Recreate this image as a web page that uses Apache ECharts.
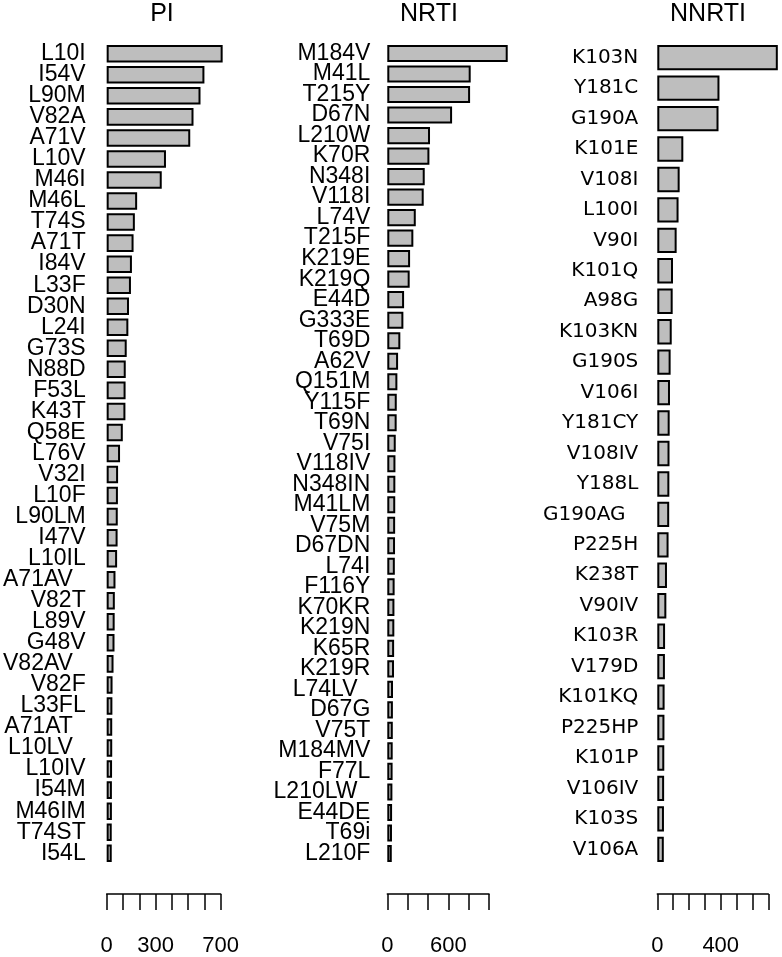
<!DOCTYPE html>
<html>
<head>
<meta charset="utf-8">
<script src="https://cdn.jsdelivr.net/npm/echarts@6/dist/echarts.min.js"></script>
<style>
  html, body { margin: 0; padding: 0; background: #fff; }
  #chart { width: 782px; height: 957px; }
</style>
</head>
<body>
<div id="chart"></div>
<script>
// mutation counts per drug class
var piLabels = ["L10I", "I54V", "L90M", "V82A", "A71V", "L10V", "M46I", "M46L", "T74S", "A71T",
  "I84V", "L33F", "D30N", "L24I", "G73S", "N88D", "F53L", "K43T", "Q58E", "L76V",
  "V32I", "L10F", "L90LM", "I47V", "L10IL", "A71AV  ", "V82T", "L89V", "G48V", "V82AV  ",
  "V82F", "L33FL", "A71AT  ", "L10LV  ", "L10IV", "I54M", "M46IM", "T74ST", "I54L"];
var piValues = [712, 600, 576, 533, 513, 364, 338, 187, 173, 165,
  155, 149, 137, 133, 123, 117, 116, 115, 99, 82,
  70, 69, 68, 67, 64, 54, 50, 49, 48, 42,
  36, 35, 34, 34, 33, 32, 32, 31, 31];

var nrtiLabels = ["M184V", "M41L", "T215Y", "D67N", "L210W", "K70R", "N348I", "V118I", "L74V", "T215F",
  "K219E", "K219Q", "E44D", "G333E", "T69D", "A62V", "Q151M", "Y115F", "T69N", "V75I",
  "V118IV", "N348IN", "M41LM", "V75M", "D67DN", "L74I", "F116Y", "K70KR", "K219N", "K65R",
  "K219R", "L74LV  ", "D67G", "V75T", "M184MV", "F77L", "L210LW  ", "E44DE", "T69i", "L210F"];
var nrtiValues = [1184, 820, 814, 637, 420, 414, 368, 358, 280, 256,
  224, 220, 165, 158, 128, 106, 99, 93, 92, 83,
  80, 79, 78, 77, 76, 74, 72, 70, 69, 67,
  66, 56, 55, 54, 53, 52, 50, 47, 46, 44];

var nnrtiLabels = ["K103N", "Y181C", "G190A", "K101E", "V108I", "L100I", "V90I", "K101Q", "A98G", "K103KN",
  "G190S", "V106I", "Y181CY", "V108IV", "Y188L", "G190AG  ", "P225H", "K238T", "V90IV", "K103R",
  "V179D", "K101KQ", "P225HP", "K101P", "V106IV", "K103S", "V106A"];
var nnrtiValues = [760, 392, 386, 164, 141, 134, 122, 99, 97, 91,
  84, 80, 78, 77, 76, 75, 71, 61, 57, 49,
  48, 46, 45, 44, 43, 42, 41];

// axis ticks and the labels that are actually printed
var piTicks = { max: 700, interval: 100, shown: [0, 300, 700] };
var nrtiTicks = { max: 1000, interval: 200, shown: [0, 600] };
var nnrtiTicks = { max: 700, interval: 100, shown: [0, 400] };

var panels = [
  { title: "PI", titleX: 162, labels: piLabels, values: piValues, ticks: piTicks,
    left: 103.3, width: 117.4, margin: 21, font: "Liberation Sans", size: 23 },
  { title: "NRTI", titleX: 429, labels: nrtiLabels, values: nrtiValues, ticks: nrtiTicks,
    left: 387.3, width: 101.7, margin: 17, font: "Liberation Sans", size: 23 },
  { title: "NNRTI", titleX: 708, labels: nnrtiLabels, values: nnrtiValues, ticks: nnrtiTicks,
    left: 657.3, width: 111, margin: 19, font: "DejaVu Sans", size: 20 }
];

var gap = 1 / 6;      // barplot space = 0.2
var barTop = 45, barBottom = 866;
var axisY = 898;

var chart = echarts.init(document.getElementById("chart"), null, { renderer: "canvas" });

var option = { animation: false, title: [], grid: [], xAxis: [], yAxis: [], series: [] };

panels.forEach(function (p, i) {
  var n = p.labels.length;
  var band = (barBottom - barTop) / (n - gap);
  var top = barTop - band * gap / 2;
  var height = band * n;

  option.title.push({
    text: p.title, left: p.titleX, top: 2, textAlign: "center", padding: 0,
    textStyle: { fontFamily: "Liberation Sans", fontSize: 25, fontWeight: "normal", color: "#000" }
  });
  option.grid.push({ left: p.left, top: top, width: p.width, height: height });
  option.xAxis.push({
    gridIndex: i, type: "value", min: 0, max: p.ticks.max, interval: p.ticks.interval,
    position: "bottom", offset: axisY - (top + height),
    splitLine: { show: false },
    axisLine: { show: true, lineStyle: { color: "#000", width: 1.5 } },
    axisTick: { show: true, inside: false, length: 16, lineStyle: { color: "#000", width: 1.5 } },
    axisLabel: {
      margin: 41, color: "#000", fontFamily: "Liberation Sans", fontSize: 22,
      showMinLabel: true, showMaxLabel: true, hideOverlap: false,
      formatter: (function (shown) {
        return function (v) { return shown.indexOf(v) >= 0 ? String(v) : ""; };
      })(p.ticks.shown)
    }
  });
  option.yAxis.push({
    gridIndex: i, type: "category", data: p.labels, inverse: true,
    axisLine: { show: false }, axisTick: { show: false }, splitLine: { show: false },
    axisLabel: { margin: p.margin, color: "#000", fontFamily: p.font, fontSize: p.size, interval: 0 }
  });
  option.series.push({
    type: "bar", xAxisIndex: i, yAxisIndex: i, data: p.values,
    barCategoryGap: (gap * 100) + "%", clip: false, silent: true,
    itemStyle: { color: "#bebebe", borderColor: "#000", borderWidth: 2 }
  });
});

chart.setOption(option);
</script>
</body>
</html>
